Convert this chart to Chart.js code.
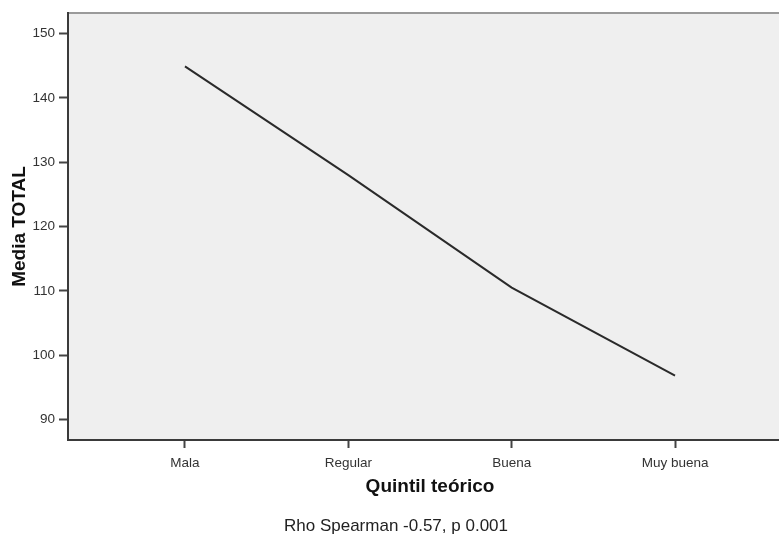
<!DOCTYPE html>
<html>
<head>
<meta charset="utf-8">
<script src="https://cdn.jsdelivr.net/npm/chart.js@4/dist/chart.umd.min.js"></script>
<style>
  body { margin: 0; background: #fff; overflow: hidden; }
</style>
</head>
<body>
<canvas id="lineChart" width="794" height="538"></canvas>
<script>
const categories = ['Mala', 'Regular', 'Buena', 'Muy buena'];
const mediaTotal = [144.9, 128.0, 110.5, 96.8];
const yTicks = [90, 100, 110, 120, 130, 140, 150];

const FONT = '"Liberation Sans", Arial, sans-serif';

// fondo gris del area y linea superior
const plotBackground = {
    id: 'plotBackground',
    beforeDraw(chart) {
        const { ctx, chartArea: a } = chart;
        ctx.save();
        ctx.fillStyle = '#efefef';
        ctx.fillRect(a.left, a.top, a.right - a.left, a.bottom - a.top);
        ctx.strokeStyle = '#9a9a9a';
        ctx.lineWidth = 2;
        ctx.beginPath();
        ctx.moveTo(a.left, a.top);
        ctx.lineTo(a.right, a.top);
        ctx.stroke();
        ctx.restore();
    }
};

function createLineChart() {
    const ctx = document.getElementById('lineChart').getContext('2d');
    new Chart(ctx, {
        type: 'line',
        data: {
            datasets: [{
                label: 'Media TOTAL',
                data: mediaTotal.map((v, i) => ({ x: i, y: v })),
                borderColor: '#2a2a2a',
                borderWidth: 2,
                pointRadius: 0,
                fill: false,
                tension: 0
            }]
        },
        options: {
            responsive: false,
            animation: false,
            layout: { padding: { top: 13, right: 2, left: 0, bottom: 0 } },
            plugins: {
                legend: { display: false },
                tooltip: { enabled: false },
                title: {
                    display: true,
                    position: 'bottom',
                    text: 'Rho Spearman -0.57, p 0.001',
                    color: '#222',
                    font: { family: FONT, size: 17, weight: 'normal' },
                    padding: { top: 15.8, bottom: 1.8 }
                }
            },
            scales: {
                x: {
                    type: 'linear',
                    min: -0.716,
                    max: 3.716,
                    afterBuildTicks: s => { s.ticks = categories.map((c, i) => ({ value: i })); },
                    afterFit: s => { s.height = 60; },
                    grid: { drawOnChartArea: false, drawTicks: true, tickLength: 8, tickColor: '#444', tickWidth: 2 },
                    border: { display: true, color: '#3a3a3a', width: 2 },
                    ticks: {
                        callback: v => categories[v],
                        maxRotation: 0,
                        autoSkip: false,
                        padding: 7,
                        color: '#333',
                        font: { family: FONT, size: 13.5 }
                    },
                    title: {
                        display: true,
                        text: 'Quintil teórico',
                        color: '#111',
                        font: { family: FONT, size: 19, weight: 'bold' },
                        padding: { top: 0, bottom: 2 }
                    }
                },
                y: {
                    min: 86.8,
                    max: 153.2,
                    afterBuildTicks: s => { s.ticks = yTicks.map(v => ({ value: v })); },
                    afterFit: s => { s.width = 68; },
                    grid: { drawOnChartArea: false, drawTicks: true, tickLength: 9, tickColor: '#444', tickWidth: 2 },
                    border: { display: true, color: '#3a3a3a', width: 2 },
                    ticks: {
                        padding: 4,
                        color: '#333',
                        font: { family: FONT, size: 13.5 }
                    },
                    title: {
                        display: true,
                        text: 'Media TOTAL',
                        color: '#111',
                        font: { family: FONT, size: 19, weight: 'bold' },
                        padding: { top: 8, bottom: 0 }
                    }
                }
            }
        },
        plugins: [plotBackground]
    });
}

window.onload = createLineChart;
</script>
</body>
</html>
